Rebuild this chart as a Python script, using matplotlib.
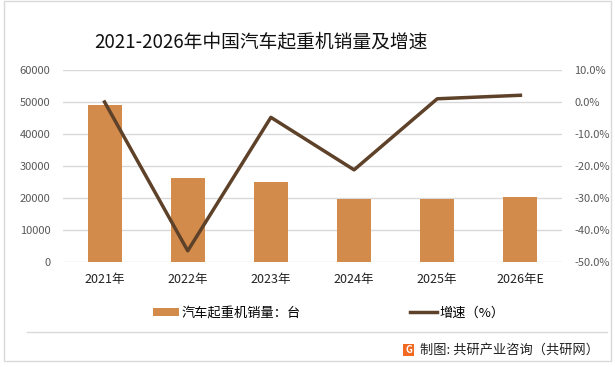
import matplotlib.pyplot as plt
from matplotlib.lines import Line2D
from matplotlib.patches import Rectangle, Patch
from matplotlib.ticker import FuncFormatter

plt.rcParams['font.family'] = ['Noto Sans CJK SC', 'DejaVu Sans']

years = ["2021年", "2022年", "2023年", "2024年", "2025年", "2026年E"]
sales = [49100, 26250, 25000, 19700, 19700, 20300]
growth = [0.0, -46.5, -4.8, -21.2, 1.0, 2.1]

bar_color = "#D38B4C"
line_color = "#5E4129"
grid_color = "#D9D9D9"
tick_color = "#595959"

fig = plt.figure(figsize=(6.15, 3.67), dpi=100)
ax = fig.add_axes([0.1024, 0.2861, 0.8114, 0.5232])
x = list(range(len(years)))

ax.bar(x, sales, width=0.41, color=bar_color, zorder=2)
ax.set_xlim(-0.5, len(years) - 0.5)
ax.set_ylim(0, 60000)
ax.set_yticks(range(0, 60001, 10000))
ax.yaxis.grid(True, color=grid_color, lw=1, zorder=0)
ax.set_axisbelow(True)
ax.set_xticks(x)
ax.set_xticklabels(years, fontsize=9, color="#222222")
ax.tick_params(axis="x", length=0, pad=8)
ax.tick_params(axis="y", length=0, pad=9, labelsize=8, labelcolor=tick_color)
for s in ax.spines.values():
    s.set_visible(False)

ax2 = ax.twinx()
ax2.plot(x, growth, color=line_color, lw=2.5, zorder=3)
ax2.set_ylim(-50, 10)
ax2.set_yticks(range(-50, 11, 10))
ax2.yaxis.set_major_formatter(FuncFormatter(lambda v, p: "{:.1f}%".format(v)))
ax2.tick_params(axis="y", length=0, pad=9, labelsize=8, labelcolor=tick_color)
for s in ax2.spines.values():
    s.set_visible(False)

fig.text(0.4244, 0.8856, "2021-2026年中国汽车起重机销量及增速", ha="center", va="center",
         fontsize=13.5, color="#111111")

handles = [Patch(facecolor=bar_color, edgecolor="none"),
           Line2D([0], [0], color=line_color, lw=2.5)]
fig.legend(handles, ["汽车起重机销量：台", "增速（%）"], loc="center left",
           bbox_to_anchor=(0.2288, 0.147), ncol=2, frameon=False, fontsize=9.5,
           handlelength=2.0, handleheight=0.6, handletextpad=0.2, columnspacing=8.3)

# frame, separator and footer
fig.add_artist(Rectangle((4 / 615, 1 - 361 / 367), 607 / 615, 360 / 367,
                         transform=fig.transFigure, fill=False, ec=grid_color, lw=1))
fig.add_artist(Line2D([27 / 615, 607 / 615], [1 - 332 / 367] * 2,
                      transform=fig.transFigure, color=grid_color, lw=1))
fig.add_artist(Rectangle((403 / 615, 1 - 356 / 367), 11 / 615, 12 / 367,
                         transform=fig.transFigure, color="#F26A21", lw=0))
fig.text(408.5 / 615, 1 - 350 / 367, "G", ha="center", va="center", fontsize=7,
         color="white", fontweight="bold")
fig.text(420 / 615, 1 - 350 / 367, "制图: 共研产业咨询（共研网）", ha="left", va="center",
         fontsize=9.5, color="#222222")

fig.savefig("out.png", dpi=100)
